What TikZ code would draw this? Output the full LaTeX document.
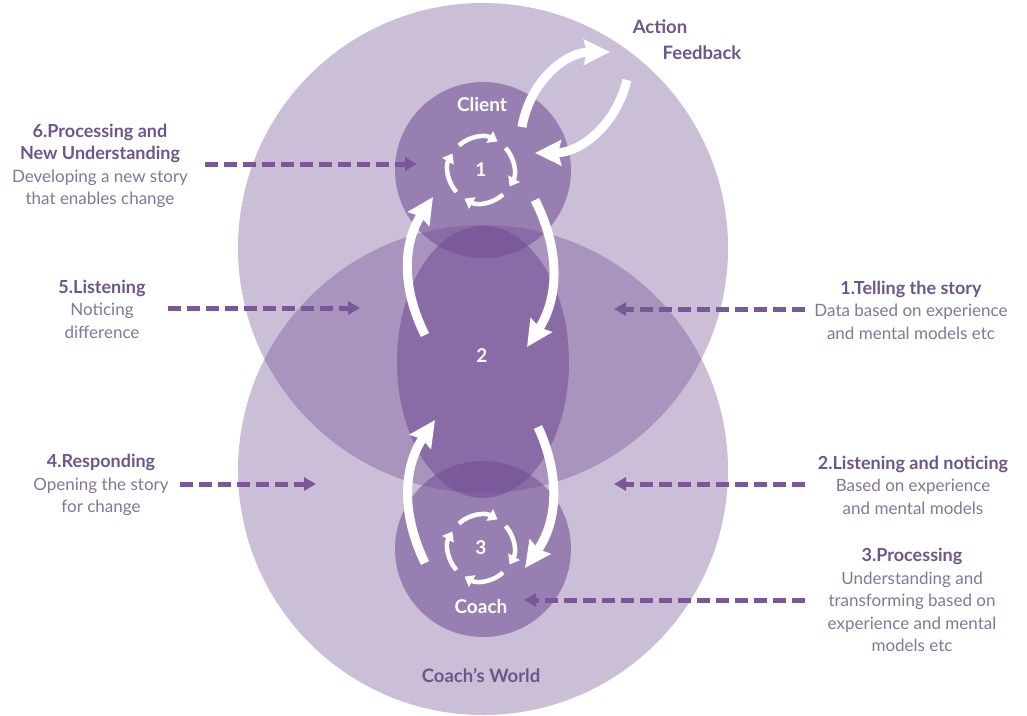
\documentclass[tikz,border=0pt]{standalone}
\usepackage{fontspec}
\setmainfont{Lato}
\usetikzlibrary{arrows.meta}
\definecolor{worldcol}{RGB}{110,75,145}
\definecolor{titlecol}{RGB}{108,86,138}
\definecolor{textcol}{RGB}{132,118,148}
\definecolor{dashcol}{RGB}{122,88,152}
\newcommand{\stagehead}[1]{\textcolor{titlecol}{\fontsize{18}{22.5}\selectfont\textbf{#1}}}

\begin{document}
\begin{tikzpicture}[x=1pt,y=1pt,
    world/.style={fill=worldcol,fill opacity=0.36},
    self/.style={fill=worldcol,fill opacity=0.55},
    flow/.style={white,line width=9pt,-{Stealth[length=26pt,width=25pt,inset=3pt]}},
    turn/.style={white,line width=4.5pt,-{Triangle[length=9pt,width=13pt]}},
    dasharrow/.style={dashcol,line width=5pt,dash pattern=on 13pt off 6pt,-{Triangle[length=12pt,width=13pt]}},
    lbl/.style={align=center,text=textcol,font=\fontsize{17}{22.5}\selectfont},
    inlbl/.style={text=white,font=\fontsize{19}{20}\selectfont\bfseries},
    outlbl/.style={text=titlecol,font=\fontsize{18.5}{20}\selectfont\bfseries}]
    \useasboundingbox (0,0) rectangle (1027,-715);
    % the two worlds and what lies in them
    \fill[world] (483,-248) circle [radius=245];
    \fill[world] (483,-470) circle [radius=245];
    \fill[self] (483,-362) ellipse [x radius=86,y radius=136];
    \fill[self] (483,-170) circle [radius=88];
    \fill[self] (483,-549) circle [radius=88];
    \node[inlbl] (client) at (482,-105) {Client};
    \node[inlbl] (coach) at (481,-607) {Coach};
    \node[inlbl] (n1) at (481,-170) {1};
    \node[inlbl] (n2) at (482,-356) {2};
    \node[inlbl] (n3) at (481,-548) {3};
    \node[outlbl] (world) at (481,-675) {Coach’s World};
    \node[outlbl] (action) at (660,-27) {Action};
    \node[outlbl] (feedback) at (702,-53) {Feedback};
    % small cycles
    \foreach \s in {132,42,-48,-138} {
        \draw[turn] (n1.center) ++(\s:33) arc [start angle=\s,delta angle=-72,radius=33];
        \draw[turn] (n3.center) ++(\s:33) arc [start angle=\s,delta angle=-72,radius=33];
    }
    % the big loop
    \coordinate (ua) at (535,-200);
    \coordinate (ub) at (527,-347);
    \coordinate (la) at (538,-427);
    \coordinate (lb) at (525,-568);
    \coordinate (lc) at (425,-563);
    \coordinate (ld) at (435,-420);
    \coordinate (uc) at (425,-335);
    \coordinate (ud) at (433,-197);
    \draw[flow] (ua) to [bend left=30] (ub);
    \draw[flow] (la) to [bend left=30] (lb);
    \draw[flow] (lc) to [bend left=30] (ld);
    \draw[flow] (uc) to [bend left=30] (ud);
    \coordinate (act0) at (522,-127);
    \coordinate (act1) at (610,-52);
    \coordinate (fb0) at (627,-80);
    \coordinate (fb1) at (535,-153);
    \draw[flow] (act0) to [bend left=40] (act1);
    \draw[flow] (fb0) to [bend left=38] (fb1);
    % stages
    \node[lbl] (st6) at (100,-166) {\stagehead{6.Processing and}\\\stagehead{New Understanding}\\Developing a new story\\that enables change};
    \node[lbl] (st5) at (102,-309) {\stagehead{5.Listening}\\Noticing\\difference};
    \node[lbl] (st4) at (101,-485) {\stagehead{4.Responding}\\Opening the story\\for change};
    \node[lbl] (st1) at (911,-310) {\stagehead{1.Telling the story}\\Data based on experience\\and mental models etc};
    \node[lbl] (st2) at (913,-485) {\stagehead{2.Listening and noticing}\\Based on experience\\and mental models};
    \node[lbl] (st3) at (912,-600) {\stagehead{3.Processing}\\Understanding and\\transforming based on\\experience and mental\\models etc};
    \coordinate (s6) at (205,-164);
    \coordinate (t6) at (417,-164);
    \coordinate (s5) at (168,-308);
    \coordinate (t5) at (360,-308);
    \coordinate (s4) at (180,-484);
    \coordinate (t4) at (316,-484);
    \coordinate (s1) at (805,-309);
    \coordinate (t1) at (614,-309);
    \coordinate (s2) at (805,-484);
    \coordinate (t2) at (614,-484);
    \coordinate (s3) at (805,-600);
    \coordinate (t3) at (524,-600);
    \foreach \k in {1,...,6}
        \draw[dasharrow] (s\k) -- (t\k);
\end{tikzpicture}
\end{document}
